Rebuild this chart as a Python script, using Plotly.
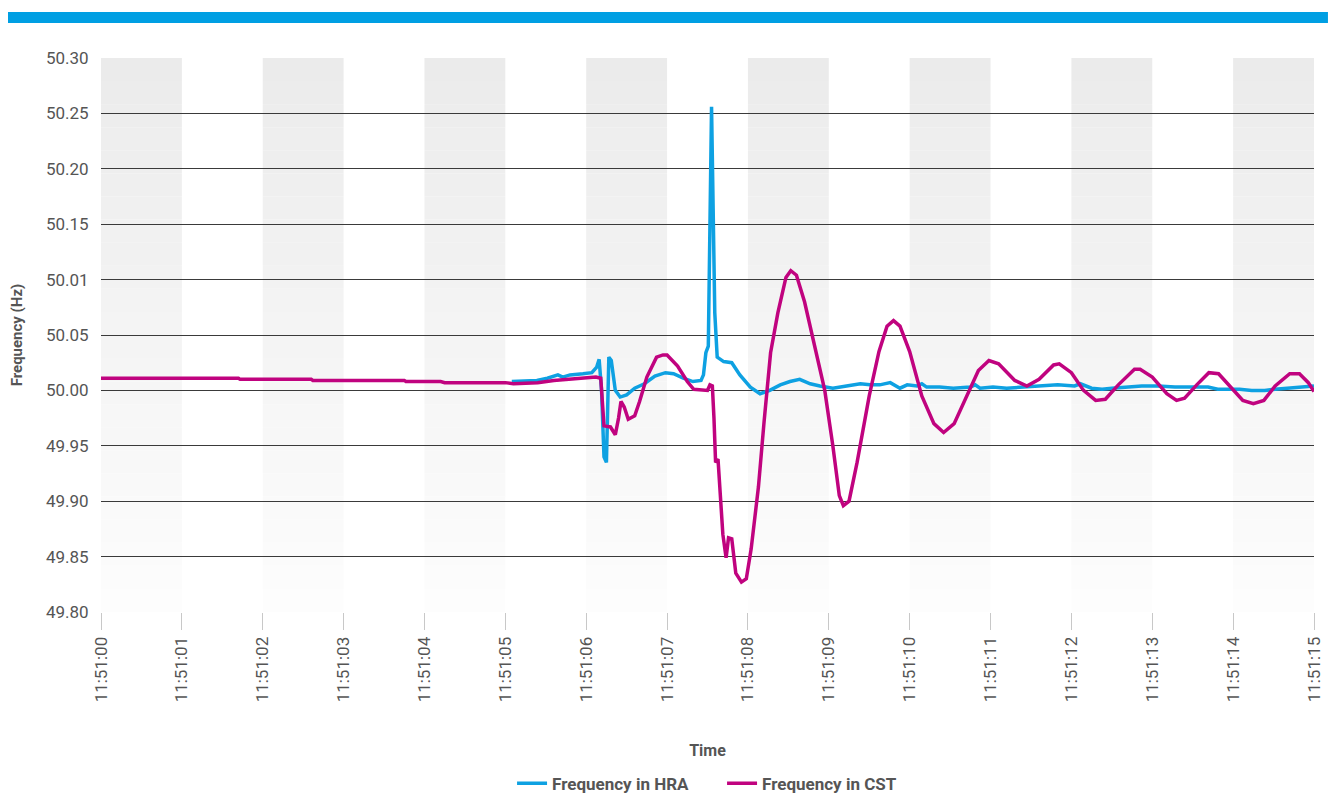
import pandas as pd
import plotly.graph_objects as go

# ---------------- data ----------------
x_ticklabels = ["11:51:00", "11:51:01", "11:51:02", "11:51:03", "11:51:04", "11:51:05",
                "11:51:06", "11:51:07", "11:51:08", "11:51:09", "11:51:10", "11:51:11",
                "11:51:12", "11:51:13", "11:51:14", "11:51:15"]
y_tickvals = [49.80, 49.85, 49.90, 49.95, 50.00, 50.05, 50.10, 50.15, 50.20, 50.25, 50.30]
y_ticklabels = ["49.80", "49.85", "49.90", "49.95", "50.00", "50.05", "50.01", "50.15",
                "50.20", "50.25", "50.30"]

# seconds after 11:51:00
cst_t = [0, 1.7, 1.72, 2.6, 2.62, 3.75, 3.77, 4.2, 4.25, 5.0, 5.1, 5.4, 5.6, 5.8, 6.0, 6.12,
         6.18, 6.22, 6.3, 6.36, 6.4, 6.43, 6.47, 6.52, 6.6, 6.66, 6.75, 6.87, 6.95, 7.0, 7.13,
         7.25, 7.33, 7.5, 7.53, 7.56, 7.58, 7.6, 7.63, 7.69, 7.73, 7.76, 7.8, 7.85, 7.92, 7.98,
         8.04, 8.13, 8.2, 8.28, 8.37, 8.47, 8.53, 8.6, 8.7, 8.82, 8.95, 9.05, 9.13, 9.18, 9.25,
         9.35, 9.5, 9.62, 9.72, 9.8, 9.88, 10.0, 10.15, 10.3, 10.42, 10.55, 10.72, 10.85, 10.98,
         11.1, 11.3, 11.45, 11.6, 11.78, 11.85, 12.0, 12.15, 12.3, 12.42, 12.58, 12.78, 12.85,
         13.0, 13.18, 13.3, 13.4, 13.55, 13.7, 13.82, 13.98, 14.12, 14.25, 14.38, 14.52, 14.7,
         14.82, 14.93, 15.0]
cst_f = [50.011, 50.011, 50.010, 50.010, 50.009, 50.009, 50.008, 50.008, 50.007, 50.007,
         50.006, 50.007, 50.009, 50.010, 50.011, 50.012, 50.011, 49.968, 49.967, 49.960,
         49.975, 49.990, 49.985, 49.974, 49.977, 49.990, 50.012, 50.030, 50.032, 50.032,
         50.022, 50.008, 50.001, 50.000, 50.005, 50.004, 49.975, 49.935, 49.938, 49.870,
         49.849, 49.867, 49.866, 49.835, 49.827, 49.830, 49.857, 49.913, 49.972, 50.034,
         50.070, 50.102, 50.108, 50.104, 50.080, 50.040, 50.000, 49.950, 49.905, 49.896,
         49.900, 49.935, 49.995, 50.035, 50.058, 50.063, 50.058, 50.035, 49.995, 49.970,
         49.962, 49.970, 49.998, 50.018, 50.027, 50.024, 50.009, 50.004, 50.010, 50.023,
         50.024, 50.016, 50.000, 49.991, 49.992, 50.005, 50.019, 50.019, 50.012, 49.997,
         49.991, 49.993, 50.005, 50.016, 50.015, 50.002, 49.991, 49.988, 49.991, 50.004,
         50.015, 50.015, 50.007, 49.999]

hra_t = [5.08, 5.39, 5.52, 5.65, 5.71, 5.80, 5.96, 6.07, 6.13, 6.16, 6.19, 6.22, 6.25, 6.28,
         6.31, 6.36, 6.42, 6.5, 6.6, 6.72, 6.85, 6.98, 7.08, 7.2, 7.32, 7.42, 7.45, 7.48, 7.51,
         7.55, 7.59, 7.62, 7.7, 7.8, 7.9, 8.03, 8.15, 8.27, 8.40, 8.52, 8.64, 8.77, 8.89, 9.05,
         9.22, 9.39, 9.51, 9.63, 9.76, 9.88, 9.97, 10.09, 10.15, 10.21, 10.37, 10.54, 10.75,
         10.81, 10.87, 11.03, 11.20, 11.43, 11.67, 11.83, 12.04, 12.11, 12.25, 12.38, 12.50,
         12.66, 12.87, 13.07, 13.28, 13.49, 13.69, 13.81, 13.94, 14.08, 14.23, 14.39, 14.52,
         14.68, 14.85, 15.0]
hra_f = [50.008, 50.009, 50.011, 50.014, 50.012, 50.014, 50.015, 50.016, 50.021, 50.028,
         50.000, 49.940, 49.935, 50.030, 50.027, 50.000, 49.994, 49.996, 50.002, 50.006,
         50.013, 50.016, 50.015, 50.011, 50.008, 50.009, 50.014, 50.034, 50.040, 50.256,
         50.070, 50.030, 50.026, 50.025, 50.014, 50.003, 49.997, 50.000, 50.005, 50.008,
         50.010, 50.006, 50.004, 50.002, 50.004, 50.006, 50.005, 50.005, 50.007, 50.002,
         50.005, 50.004, 50.006, 50.003, 50.003, 50.002, 50.003, 50.005, 50.002, 50.003,
         50.002, 50.003, 50.004, 50.005, 50.004, 50.006, 50.002, 50.001, 50.002, 50.003,
         50.004, 50.004, 50.003, 50.003, 50.003, 50.001, 50.001, 50.001, 50.000, 50.000,
         50.001, 50.002, 50.003, 50.004]

# ---------------- styling ----------------
FONT = "Roboto, 'Liberation Sans', sans-serif"
BLUE = "#0ea1e2"
MAGENTA = "#c0037f"
base = pd.Timestamp("2024-01-01 11:51:00")


def to_time(ts):
    return base + pd.to_timedelta(pd.Series(ts, dtype=float), unit="s")


fig = go.Figure()
fig.add_trace(go.Scatter(x=to_time(hra_t), y=hra_f, mode="lines", name="Frequency in HRA",
                         line=dict(color=BLUE, width=3.5)))
fig.add_trace(go.Scatter(x=to_time(cst_t), y=cst_f, mode="lines", name="Frequency in CST",
                         line=dict(color=MAGENTA, width=3.5)))

tickvals = list(to_time(list(range(len(x_ticklabels)))))
ymin, ymax = y_tickvals[0], y_tickvals[-1]

# alternating vertical bands with vertical gradient (drawn as thin slices)
shapes = []
nslices = 24
for s in range(0, len(x_ticklabels) - 1, 2):
    for k in range(nslices):
        y0 = ymin + (ymax - ymin) * k / nslices
        y1 = ymin + (ymax - ymin) * (k + 1) / nslices
        frac = (k + 0.5) / nslices
        g = round(253 - (253 - 235) * frac)
        shapes.append(dict(type="rect", xref="x", yref="y", x0=tickvals[s], x1=tickvals[s + 1],
                           y0=y0, y1=y1, fillcolor=f"rgb({g},{g},{g})",
                           line=dict(width=0), layer="below"))
# top blue banner
shapes.append(dict(type="rect", xref="paper", yref="paper", x0=-0.0767, x1=1.0115,
                   y0=1.063, y1=1.083, fillcolor="#009fe3", line=dict(width=0), layer="above"))

# the page has an 8px body margin, so the figure is 8px smaller and shifted
fig.update_layout(
    width=1328, height=789,
    margin=dict(l=93, r=22, t=50, b=185, autoexpand=False),
    paper_bgcolor="white", plot_bgcolor="white",
    font=dict(family=FONT, color="#555555", size=16),
    shapes=shapes,
    showlegend=True,
    legend=dict(orientation="h", x=0.512, xanchor="center", y=-0.31, yanchor="middle",
                font=dict(family=FONT, size=17, color="#555555", weight="bold"),
                entrywidth=165, entrywidthmode="pixels",
                tracegroupgap=0, traceorder="normal"),
)
fig.update_xaxes(
    type="date", range=[tickvals[0], tickvals[-1]],
    tickmode="array", tickvals=tickvals, ticktext=x_ticklabels,
    tickangle=-90, ticks="outside", ticklen=17, tickcolor="#c8c8c8", tickwidth=1,
    tickfont=dict(family=FONT, size=17, color="#555555"),
    showgrid=False, zeroline=False, showline=False, automargin=False,
    title=dict(text="Time", font=dict(family=FONT, size=16, color="#555555", weight="bold"),
               standoff=43),
)
fig.update_yaxes(
    range=[ymin, ymax], tickmode="array", tickvals=y_tickvals, ticktext=y_ticklabels,
    showgrid=True, gridcolor="#3a3a3a", gridwidth=1,
    ticks="outside", ticklen=8, tickcolor="rgba(0,0,0,0)",
    tickfont=dict(family=FONT, size=17, color="#555555"),
    zeroline=False, showline=False, automargin=False,
    title=dict(text="Frequency (Hz)", font=dict(family=FONT, size=15, color="#555555",
                                                 weight="bold"), standoff=26),
)

fig.write_html("out.html")
